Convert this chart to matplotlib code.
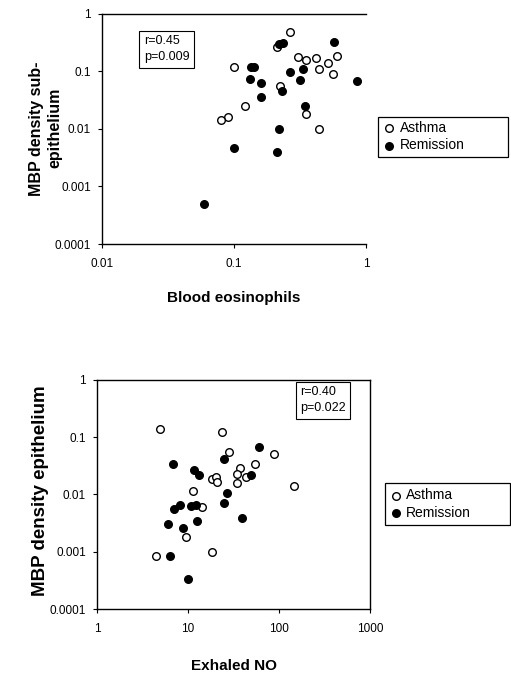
import numpy as np
import matplotlib
matplotlib.use('Agg')
import matplotlib.pyplot as plt
from matplotlib.ticker import FixedLocator, FixedFormatter, NullLocator

plt.rcParams['font.family'] = ['Liberation Sans', 'DejaVu Sans']

# Top panel: blood eosinophils vs MBP density sub-epithelium
eos_asthma_x = [0.263, 0.212, 0.100, 0.304, 0.348, 0.418, 0.440, 0.518,
                0.603, 0.562, 0.221, 0.120, 0.090, 0.080, 0.353, 0.436]
eos_asthma_y = [0.469, 0.264, 0.119, 0.177, 0.155, 0.168, 0.108, 0.138,
                0.180, 0.088, 0.055, 0.0248, 0.0158, 0.0142, 0.0178, 0.0098]
eos_remis_x = [0.217, 0.233, 0.574, 0.134, 0.142, 0.263, 0.333, 0.131, 0.161,
               0.313, 0.849, 0.232, 0.161, 0.345, 0.219, 0.100, 0.212, 0.059]
eos_remis_y = [0.294, 0.310, 0.316, 0.119, 0.119, 0.0975, 0.108, 0.072, 0.0629,
               0.070, 0.0686, 0.0446, 0.036, 0.0248, 0.0099, 0.00465, 0.00389,
               0.000493]

# Bottom panel: exhaled NO vs MBP density epithelium
no_asthma_x = [4.90, 23.8, 27.9, 89.1, 54.5, 37.3, 34.8, 43.6, 18.3,
               20.2, 20.9, 34.4, 11.2, 145, 14.3, 9.6, 18.3, 4.43]
no_asthma_y = [0.1406, 0.121, 0.0548, 0.0502, 0.0343, 0.0291, 0.0229, 0.0200,
               0.0190, 0.0201, 0.0166, 0.0158, 0.0114, 0.0139, 0.00606,
               0.00184, 0.00100, 0.00085]
no_remis_x = [61.0, 6.80, 24.8, 11.6, 13.1, 48.6, 27.0, 24.8, 8.11,
              7.06, 10.9, 12.1, 39.2, 6.04, 12.7, 8.81, 6.30, 10.0]
no_remis_y = [0.0665, 0.0336, 0.0411, 0.0264, 0.0218, 0.0218, 0.0104, 0.00718,
              0.00649, 0.00548, 0.00626, 0.00649, 0.00383, 0.00309, 0.00346,
              0.00264, 0.00085, 0.00034]

y_ticks = [0.0001, 0.001, 0.01, 0.1, 1]
y_ticklabels = ['0.0001', '0.001', '0.01', '0.1', '1']

fig = plt.figure(figsize=(5.11, 6.86), dpi=100)
ax1 = fig.add_axes([0.1996, 0.6443, 0.517, 0.336])
ax2 = fig.add_axes([0.190, 0.1122, 0.534, 0.334])


def style_axes(ax, xticks, xlabels):
    ax.set_xscale('log')
    ax.set_yscale('log')
    ax.xaxis.set_major_locator(FixedLocator(xticks))
    ax.xaxis.set_major_formatter(FixedFormatter(xlabels))
    ax.yaxis.set_major_locator(FixedLocator(y_ticks))
    ax.yaxis.set_major_formatter(FixedFormatter(y_ticklabels))
    ax.xaxis.set_minor_locator(NullLocator())
    ax.yaxis.set_minor_locator(NullLocator())
    ax.set_xlim(xticks[0], xticks[-1])
    ax.set_ylim(0.0001, 1)
    ax.tick_params(direction='out', length=3, width=0.8, labelsize=8.5)
    ax.tick_params(axis='y', pad=5)
    ax.tick_params(axis='x', pad=7)
    for s in ax.spines.values():
        s.set_linewidth(1.0)


def draw_points(ax, xa, ya, xr, yr):
    ax.scatter(xa, ya, s=30, facecolors='white', edgecolors='black',
               linewidths=1.0, label='Asthma', zorder=3)
    ax.scatter(xr, yr, s=30, facecolors='black', edgecolors='black',
               linewidths=1.0, label='Remission', zorder=3)


def add_legend(ax, anchor, box):
    # legend entries without frame, then a plain box like the original
    fig.legend(*ax.get_legend_handles_labels(), loc='center left',
               bbox_to_anchor=anchor, fontsize=10, frameon=False,
               handletextpad=0.25, handlelength=1.0, labelspacing=0.25,
               borderpad=0, borderaxespad=0)
    fig.add_artist(plt.Rectangle(box[:2], box[2], box[3],
                                 transform=fig.transFigure, fill=False,
                                 ec='black', lw=0.9))


# top panel
draw_points(ax1, eos_asthma_x, eos_asthma_y, eos_remis_x, eos_remis_y)
style_axes(ax1, [0.01, 0.1, 1], ['0.01', '0.1', '1'])
ax1.spines['right'].set_visible(False)
ax1.set_xlabel('Blood eosinophils', fontsize=11, fontweight='bold', labelpad=15)
ax1.text(0.158, 0.905, 'r=0.45\np=0.009', transform=ax1.transAxes,
         fontsize=9, va='top', ha='left', linespacing=1.45,
         bbox=dict(boxstyle='square,pad=0.35', fc='white', ec='black', lw=0.8))
fig.text(0.090, 0.813, 'MBP density sub-\nepithelium', rotation=90,
         fontsize=11.5, fontweight='bold', ha='center', va='center',
         linespacing=1.3)
add_legend(ax1, (0.748, 0.801), (0.740, 0.771, 0.255, 0.058))

# bottom panel
draw_points(ax2, no_asthma_x, no_asthma_y, no_remis_x, no_remis_y)
style_axes(ax2, [1, 10, 100, 1000], ['1', '10', '100', '1000'])
ax2.set_xlabel('Exhaled NO', fontsize=11, fontweight='bold', labelpad=17)
ax2.text(0.745, 0.972, 'r=0.40\np=0.022', transform=ax2.transAxes,
         fontsize=9, va='top', ha='left', linespacing=1.45,
         bbox=dict(boxstyle='square,pad=0.35', fc='white', ec='black', lw=0.8))
fig.text(0.079, 0.285, 'MBP density epithelium', rotation=90,
         fontsize=13.5, fontweight='bold', ha='center', va='center')
add_legend(ax2, (0.761, 0.265), (0.753, 0.234, 0.245, 0.062))

fig.savefig('out.png', dpi=100)
